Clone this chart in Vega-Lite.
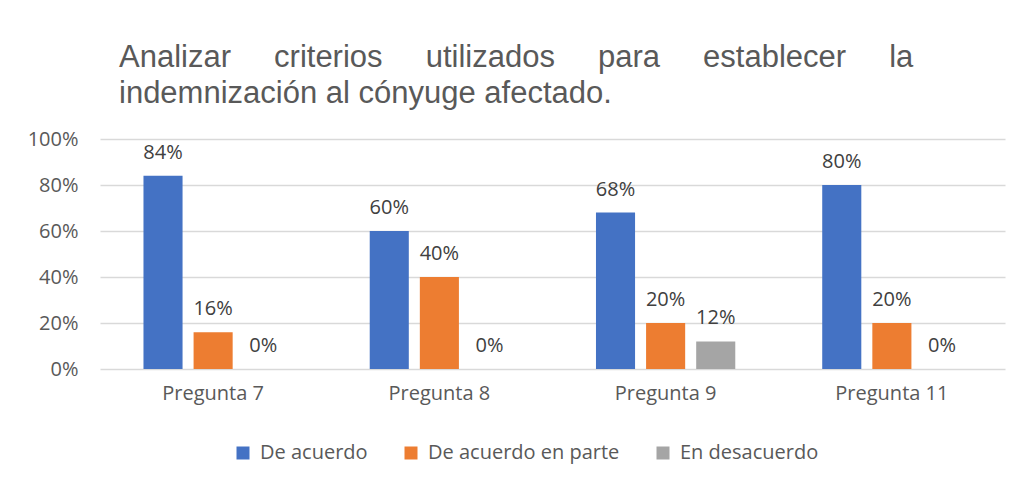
{
  "$schema": "https://vega.github.io/schema/vega-lite/v6.json",
  "width": 905,
  "height": 230,
  "autosize": {"type": "none"},
  "padding": {"left": 100, "top": 139, "right": 16, "bottom": 115},
  "background": "white",
  "title": {
    "text": ["Analizar\u00a0\u00a0\u00a0\u00a0 criterios\u00a0\u00a0\u00a0\u00a0 utilizados\u00a0\u00a0\u00a0\u00a0 para\u00a0\u00a0\u00a0\u00a0 establecer\u00a0\u00a0\u00a0\u00a0 la", "indemnización al cónyuge afectado."],
    "anchor": "start",
    "frame": "group",
    "dx": 19,
    "offset": 19,
    "font": "Liberation Sans",
    "fontSize": 31,
    "fontWeight": "normal",
    "color": "#595959",
    "lineHeight": 36
  },
  "config": {
    "font": "Open Sans",
    "view": {"stroke": null},
    "axis": {"labelFont": "Open Sans", "labelFontSize": 20, "labelColor": "#595959", "title": null}
  },
  "data": {
    "values": [
      {"pregunta": "Pregunta 7", "serie": "De acuerdo", "valor": 0.84},
      {"pregunta": "Pregunta 7", "serie": "De acuerdo en parte", "valor": 0.16},
      {"pregunta": "Pregunta 7", "serie": "En desacuerdo", "valor": 0},
      {"pregunta": "Pregunta 8", "serie": "De acuerdo", "valor": 0.60},
      {"pregunta": "Pregunta 8", "serie": "De acuerdo en parte", "valor": 0.40},
      {"pregunta": "Pregunta 8", "serie": "En desacuerdo", "valor": 0},
      {"pregunta": "Pregunta 9", "serie": "De acuerdo", "valor": 0.68},
      {"pregunta": "Pregunta 9", "serie": "De acuerdo en parte", "valor": 0.20},
      {"pregunta": "Pregunta 9", "serie": "En desacuerdo", "valor": 0.12},
      {"pregunta": "Pregunta 11", "serie": "De acuerdo", "valor": 0.80},
      {"pregunta": "Pregunta 11", "serie": "De acuerdo en parte", "valor": 0.20},
      {"pregunta": "Pregunta 11", "serie": "En desacuerdo", "valor": 0}
    ]
  },
  "encoding": {
    "x": {
      "field": "pregunta",
      "type": "nominal",
      "sort": ["Pregunta 7", "Pregunta 8", "Pregunta 9", "Pregunta 11"],
      "scale": {"paddingInner": 0.34, "paddingOuter": 0.17},
      "axis": {"labelAngle": 0, "ticks": false, "domain": false, "labelPadding": 14}
    },
    "xOffset": {
      "field": "serie",
      "type": "nominal",
      "sort": ["De acuerdo", "De acuerdo en parte", "En desacuerdo"],
      "scale": {"paddingInner": 0.22, "paddingOuter": 0.1}
    },
    "y": {
      "field": "valor",
      "type": "quantitative",
      "scale": {"domain": [0, 1], "nice": false},
      "axis": {"format": ".0%", "values": [0, 0.2, 0.4, 0.6, 0.8, 1], "ticks": false, "domain": false, "labelPadding": 22, "gridColor": "#d9d9d9", "gridWidth": 1.5}
    }
  },
  "layer": [
    {
      "mark": {"type": "bar"},
      "encoding": {
        "color": {
          "field": "serie",
          "type": "nominal",
          "sort": ["De acuerdo", "De acuerdo en parte", "En desacuerdo"],
          "scale": {"domain": ["De acuerdo", "De acuerdo en parte", "En desacuerdo"], "range": ["#4472C4", "#ED7D31", "#A5A5A5"]},
          "legend": {
            "title": null,
            "orient": "none",
            "legendX": 133,
            "legendY": 304,
            "direction": "horizontal",
            "symbolType": "square",
            "symbolSize": 169,
            "symbolStrokeWidth": 0,
            "labelFont": "Open Sans",
            "labelFontSize": 20,
            "labelColor": "#595959",
            "labelLimit": 400,
            "labelOffset": 7,
            "columnPadding": 33
          }
        }
      }
    },
    {
      "mark": {"type": "text", "baseline": "alphabetic", "dy": -17, "fontSize": 20, "font": "Open Sans", "color": "#404040"},
      "encoding": {
        "text": {"field": "valor", "type": "quantitative", "format": ".0%"}
      }
    }
  ]
}
